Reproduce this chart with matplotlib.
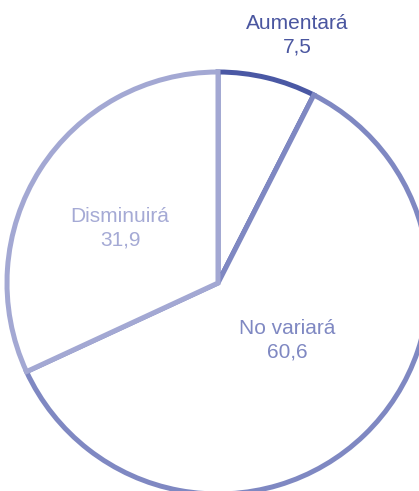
import matplotlib
matplotlib.use('Agg')
import matplotlib.pyplot as plt

labels = ['Aumentará', 'No variará', 'Disminuirá']
values = [7.5, 60.6, 31.9]
value_labels = ['7,5', '60,6', '31,9']
edge_colors = ['#4a58a4', '#7f88c2', '#a3a8d3']
text_colors = ['#4a56a0', '#7f88c2', '#a5aad5']

W, H = 419, 491
fig = plt.figure(figsize=(W / 100, H / 100), dpi=100)
ax = fig.add_axes([0, 0, 1, 1])

cx, cy, r = 218, H - 283, 211
wedges, _ = ax.pie(values, center=(cx, cy), radius=r, startangle=90,
                   counterclock=False, colors=['white'] * 3,
                   wedgeprops=dict(linewidth=3.6, joinstyle='miter'),
                   frame=True)
for w, c in zip(wedges, edge_colors):
    w.set_edgecolor(c)
ax.set_xlim(0, W)
ax.set_ylim(0, H)
ax.axis('off')

# label positions in pixel space
pos = [(297, H - 35), (287, H - 340), (120, H - 228)]
for lab, val, (x, y), c in zip(labels, value_labels, pos, text_colors):
    ax.text(x, y, f'{lab}\n{val}', ha='center', va='center', color=c,
            fontsize=15, family='Liberation Sans', linespacing=1.3)

fig.savefig('out.png', dpi=100)
